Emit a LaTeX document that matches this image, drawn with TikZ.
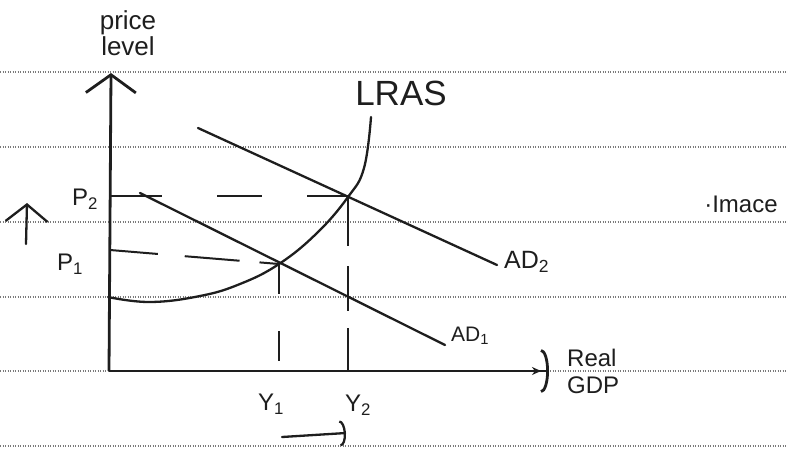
\documentclass[tikz,border=0pt]{standalone}
\usepackage{fontspec}
\setmainfont{Liberation Sans}
\usetikzlibrary{arrows.meta}
\definecolor{ink}{HTML}{1E1E1E}
\definecolor{rulegray}{HTML}{7A7A7A}

\begin{document}
\begin{tikzpicture}[
		x=1pt,
		y=-1pt,
		every node/.style={text=ink, inner sep=0pt},
		axis/.style={draw=ink, line width=2.8pt},
		curve/.style={draw=ink, line width=2.3pt, line cap=round},
		guide/.style={draw=ink, line width=2pt},
		paperline/.style={draw=rulegray, line width=1.3pt, dash pattern=on 1pt off 1.5pt},
		hand/.style={font=\fontsize{#1}{#1}\selectfont}
	]
	\useasboundingbox (0,0) rectangle (787,455);

	\foreach \y in {72,147,222,297,371,446}{
		\draw[paperline] (0,\y) -- (787,\y);
	}

	\coordinate (O) at (109,371);
	\coordinate (ytop) at (111,73);
	\coordinate (xend) at (549,371);
	\draw[axis, -{Straight Barb[length=18pt, width=50pt]}]
		(O) -- (ytop);
	\draw[axis, -{Stealth[length=9pt, width=8pt] Arc Barb[length=8pt, width=44pt]}]
		(O) -- (xend);

	\coordinate (ad2a) at (198,128);
	\coordinate (ad2b) at (497,265);
	\coordinate (ad1a) at (140,193);
	\coordinate (ad1b) at (445,345);
	\draw[curve] (ad2a) -- (ad2b);
	\draw[curve] (ad1a) -- (ad1b);

	\draw[curve] plot[smooth, tension=0.7] coordinates {
		(108,297) (150,302) (200,296) (240,284) (279,264)
		(317,233) (348,197) (364,168) (371,117)
	};

	\coordinate (E1) at (279,264);
	\coordinate (E2) at (348,196);
	\coordinate (p1start) at (110,250);

	\draw[guide, dash pattern=on 53pt off 55pt on 45pt off 45pt]
		(O |- E2) -- (E2);
	\draw[guide, dash pattern=on 48pt off 27pt on 55pt off 20pt]
		(p1start) -- (E1);
	\draw[guide, dash pattern=on 30pt off 37pt on 30pt off 20pt]
		(E1) -- (E1 |- O);
	\draw[guide, dash pattern=on 50pt off 20pt on 45pt off 17pt]
		(E2) -- (E2 |- O);

	\node[hand=26, align=center] (ylabel) at (128,33) {price\\[0pt]level};
	\node[hand=35] (lras) at (401,93) {LRAS};
	\node[hand=25, anchor=west] (ad2) at (504,262) {AD\textsubscript{2}};
	\node[hand=21, anchor=west] (ad1) at (451,336) {AD\textsubscript{1}};
	\node[hand=24, align=left, anchor=west] (gdp) at (567,371) {Real\\[3pt]GDP};
	\node[hand=24] (p2) at (85,199) {P\textsubscript{2}};
	\node[hand=24] (p1) at (70,264) {P\textsubscript{1}};
	\node[hand=24] (y1) at (271,404) {Y\textsubscript{1}};
	\node[hand=24] (y2) at (358,405) {Y\textsubscript{2}};
	\node[hand=24] (note) at (741,204) {·Imace};

	\coordinate (pup0) at (26,244);
	\coordinate (pup1) at (27,203);
	\draw[curve, -{Straight Barb[length=17pt, width=42pt]}] (pup0) -- (pup1);

	\coordinate (yshift0) at (282,437);
	\coordinate (yshift1) at (346,433);
	\draw[curve, -{Arc Barb[length=6pt, width=26pt]}] (yshift0) -- (yshift1);
\end{tikzpicture}
\end{document}
